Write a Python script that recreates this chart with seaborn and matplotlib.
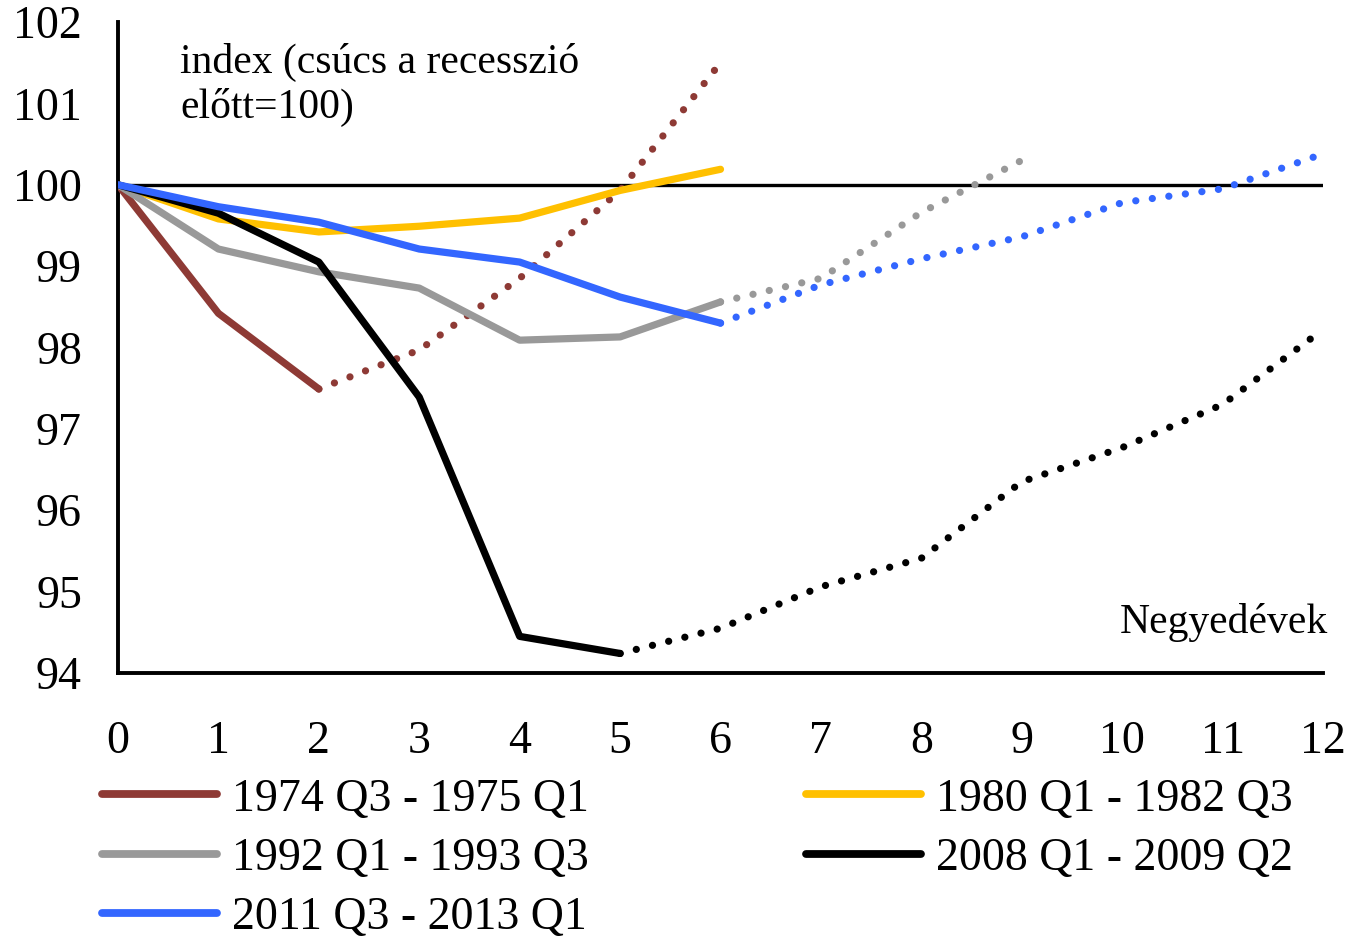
import matplotlib
matplotlib.use("Agg")
import matplotlib.pyplot as plt
import seaborn as sns
import pandas as pd
from matplotlib.lines import Line2D

# ---- data ----
quarters = list(range(13))

s1974_solid = [100.0, 98.42, 97.49]
s1974_dot = [97.49, 97.97, 98.85, 99.93, 101.5]          # quarters 2..6
s1980_solid = [100.0, 99.58, 99.42, 99.49, 99.59, 99.93, 100.19]
s1992_solid = [100.0, 99.21, 98.93, 98.73, 98.09, 98.13, 98.56]
s1992_dot = [98.56, 98.85, 99.66, 100.30]                  # quarters 6..9
s2008_solid = [100.0, 99.65, 99.05, 97.39, 94.45, 94.24]
s2008_dot = [94.24, 94.55, 95.06, 95.41, 96.35, 96.77, 97.30, 98.22]  # 5..12
s2011_solid = [100.0, 99.73, 99.54, 99.21, 99.05, 98.62, 98.30]
s2011_dot = [98.30, 98.77, 99.09, 99.36, 99.78, 99.95, 100.38]        # 6..12

labels = ["1974 Q3 - 1975 Q1", "1980 Q1 - 1982 Q3", "1992 Q1 - 1993 Q3",
          "2008 Q1 - 2009 Q2", "2011 Q3 - 2013 Q1"]
colors = ["#8E3A35", "#FFC000", "#999999", "#000000", "#3366FF"]
xtick_labels = [str(q) for q in quarters]
ytick_vals = [94, 95, 96, 97, 98, 99, 100, 101, 102]

# ---- style ----
sns.set_style("white")
plt.rcParams["font.family"] = ["Liberation Serif", "DejaVu Serif"]
plt.rcParams["text.color"] = "black"
plt.rcParams["xtick.color"] = "black"
plt.rcParams["ytick.color"] = "black"

fig = plt.figure(figsize=(13.47, 9.39), dpi=100)
ax = fig.add_axes([118/1347, 1-673/939, (1323-118)/1347, (673-22)/939])

LW = 5.2
DOT = (0, (0.01, 2.3))

def seg(vals, start):
    return pd.DataFrame({"q": list(range(start, start+len(vals))), "v": vals})

series = [
    (s1974_solid, 0, s1974_dot, 2),
    (s1980_solid, 0, None, None),
    (s1992_solid, 0, s1992_dot, 6),
    (s2008_solid, 0, s2008_dot, 5),
    (s2011_solid, 0, s2011_dot, 6),
]

ax.axhline(100, color="black", lw=2.4, zorder=1)

for (sol, s0, dot, d0), col in zip(series, colors):
    sns.lineplot(data=seg(sol, s0), x="q", y="v", ax=ax, color=col, lw=LW,
                 solid_capstyle="round", solid_joinstyle="round", zorder=3)
    if dot is not None:
        sns.lineplot(data=seg(dot, d0), x="q", y="v", ax=ax, color=col, lw=LW,
                     linestyle=DOT, dash_capstyle="round", zorder=3)

ax.set_xlim(0, 12)
ax.set_ylim(94, 102)
ax.set_xticks(quarters)
ax.set_xticklabels(xtick_labels)
ax.set_yticks(ytick_vals)
ax.set_yticklabels([str(v) for v in ytick_vals])
ax.set_xlabel("")
ax.set_ylabel("")

for side in ["top", "right"]:
    ax.spines[side].set_visible(False)
for side in ["left", "bottom"]:
    ax.spines[side].set_color("black")
    ax.spines[side].set_linewidth(2.8)

ax.tick_params(axis="both", direction="in", length=8, width=2.2, colors="black",
               labelsize=33, labelcolor="black")
ax.tick_params(axis="y", pad=26)
ax.tick_params(axis="x", pad=34)

ax.text(0.0515, 0.968, "index (csúcs a recesszió\nelőtt=100)", transform=ax.transAxes,
        ha="left", va="top", fontsize=30, linespacing=1.22, color="black")
ax.text(1.004, 0.078, "Negyedévek", transform=ax.transAxes, ha="right", va="center",
        fontsize=30, color="black")

handles = [Line2D([0], [0], color=c, lw=5.6, solid_capstyle="round") for c in colors]
order = [0, 2, 4, 1, 3]
fig.legend([handles[i] for i in order], [labels[i] for i in order],
           loc="upper left", bbox_to_anchor=(102/1347, 1-778/939), ncol=2,
           frameon=False, fontsize=33, handlelength=2.5, handletextpad=0.33,
           columnspacing=4.75, labelspacing=0.37, borderpad=0, borderaxespad=0,
           labelcolor="black")

fig.savefig("out.png", dpi=100)
